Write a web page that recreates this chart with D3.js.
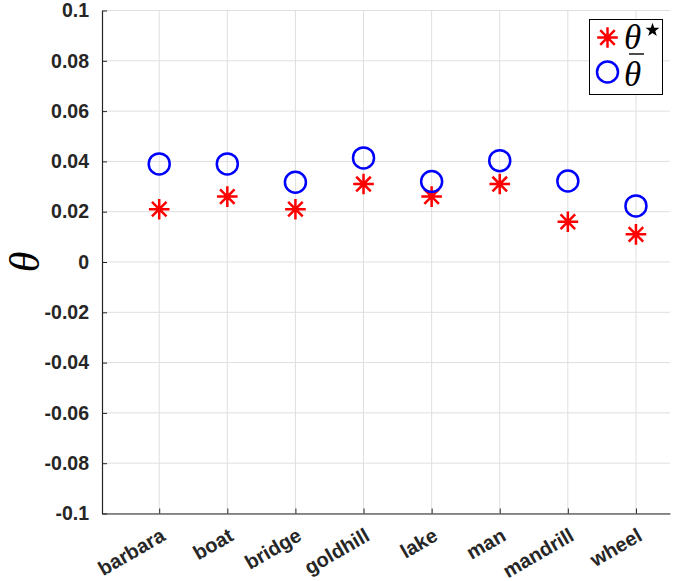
<!DOCTYPE html>
<html><head><meta charset="utf-8">
<script src="https://cdn.jsdelivr.net/npm/d3@7"></script>
<style>body{margin:0;background:#fff}</style>
</head><body>
<svg id="c" width="673" height="581"></svg>
<script>
const categories = ["barbara","boat","bridge","goldhill","lake","man","mandrill","wheel"];
const thetaStar = [0.021,0.026,0.021,0.031,0.026,0.031,0.016,0.011];
const thetaBar  = [0.039,0.039,0.0317,0.0414,0.032,0.0403,0.0322,0.0223];
const yTicks = [-0.1,-0.08,-0.06,-0.04,-0.02,0,0.02,0.04,0.06,0.08,0.1];
const yTickLabels = ["-0.1","-0.08","-0.06","-0.04","-0.02","0","0.02","0.04","0.06","0.08","0.1"];

const svg = d3.select("#c");
const L=102, R=670, T=10.5, B=513.5;
const x = d3.scaleLinear().domain([0.16,8.5]).range([L,R]);
const y = d3.scaleLinear().domain([-0.1,0.1]).range([B,T]);
const axisCol="#262626", gridCol="#dfdfdf";

// grid
const g = svg.append("g");
g.selectAll(".gy").data(yTicks).join("line").attr("x1",L).attr("x2",R)
 .attr("y1",d=>y(d)).attr("y2",d=>y(d)).attr("stroke",gridCol).attr("stroke-width",1);
g.selectAll(".gx").data(categories).join("line").attr("y1",T).attr("y2",B)
 .attr("x1",(d,i)=>x(i+1)).attr("x2",(d,i)=>x(i+1)).attr("stroke",gridCol).attr("stroke-width",1);

// axes
const ya = d3.axisLeft(y).tickValues(yTicks).tickFormat((d,i)=>yTickLabels[i]).tickSizeInner(-5).tickSizeOuter(0).tickPadding(13);
const yg = svg.append("g").attr("transform",`translate(${L},0)`).call(ya);
yg.select(".domain").attr("stroke",axisCol).attr("stroke-width",1.2);
yg.selectAll(".tick line").attr("stroke",axisCol);
yg.selectAll("text").attr("font-family","Liberation Sans, Arial, sans-serif").attr("font-weight","bold")
  .attr("font-size",19.5).attr("fill",axisCol);

const xa = d3.axisBottom(x).tickValues(categories.map((d,i)=>i+1)).tickFormat((d)=>categories[d-1]).tickSizeInner(-5).tickSizeOuter(0);
const xg = svg.append("g").attr("transform",`translate(0,${B})`).call(xa);
xg.select(".domain").attr("stroke",axisCol).attr("stroke-width",1.2);
xg.selectAll(".tick line").attr("stroke",axisCol);
xg.selectAll("text").attr("font-family","Liberation Sans, Arial, sans-serif").attr("font-weight","bold")
  .attr("font-size",20).attr("fill",axisCol)
  .attr("text-anchor","end").attr("y",0).attr("dy",0)
  .attr("transform","translate(7,26) rotate(-30)");

// y label
svg.append("text").attr("transform","translate(38.5,262) rotate(-90)")
 .attr("text-anchor","middle").attr("font-family","Liberation Serif, Times New Roman, serif")
 .attr("font-style","italic").attr("font-size",42).attr("fill","#000").text("θ");

// asterisk path
function ast(s){const d=s*0.7071;return `M${-s},0H${s}M0,${-s}V${s}M${-d},${-d}L${d},${d}M${-d},${d}L${d},${-d}`;}

svg.append("g").selectAll("path").data(thetaStar).join("path")
 .attr("d",ast(10.3)).attr("transform",(d,i)=>`translate(${x(i+1)},${y(d)})`)
 .attr("fill","none").attr("stroke","#ff0000").attr("stroke-width",2.5);
svg.append("g").selectAll("circle").data(thetaBar).join("circle")
 .attr("cx",(d,i)=>x(i+1)).attr("cy",d=>y(d)).attr("r",10.5)
 .attr("fill","none").attr("stroke","#0000ff").attr("stroke-width",2.5);

// legend
const lg = svg.append("g");
lg.append("rect").attr("x",589.5).attr("y",19.5).attr("width",73).attr("height",75)
 .attr("fill","#fff").attr("stroke","#000").attr("stroke-width",1);
lg.append("path").attr("d",ast(10.3)).attr("transform","translate(607.5,37.5)")
 .attr("fill","none").attr("stroke","#ff0000").attr("stroke-width",2.5);
lg.append("circle").attr("cx",607.5).attr("cy",72).attr("r",10.5)
 .attr("fill","none").attr("stroke","#0000ff").attr("stroke-width",2.5);
const tf = "Liberation Serif, Times New Roman, serif";
lg.append("text").attr("x",624).attr("y",49).attr("font-family",tf).attr("font-style","italic")
 .attr("font-size",35).text("θ");
// five-pointed star superscript
const starPts=[];for(let k=0;k<10;k++){const r=k%2?2.9:7.3;const a=-Math.PI/2+k*Math.PI/5;starPts.push([652.5+r*Math.cos(a),30+r*Math.sin(a)]);}
lg.append("path").attr("d",d3.line()(starPts)+"Z").attr("fill","#000");
lg.append("text").attr("x",624).attr("y",86).attr("font-family",tf).attr("font-style","italic")
 .attr("font-size",35).text("θ");
lg.append("line").attr("x1",629).attr("x2",644).attr("y1",54).attr("y2",54).attr("stroke","#000").attr("stroke-width",1.4);
</script>
</body></html>
